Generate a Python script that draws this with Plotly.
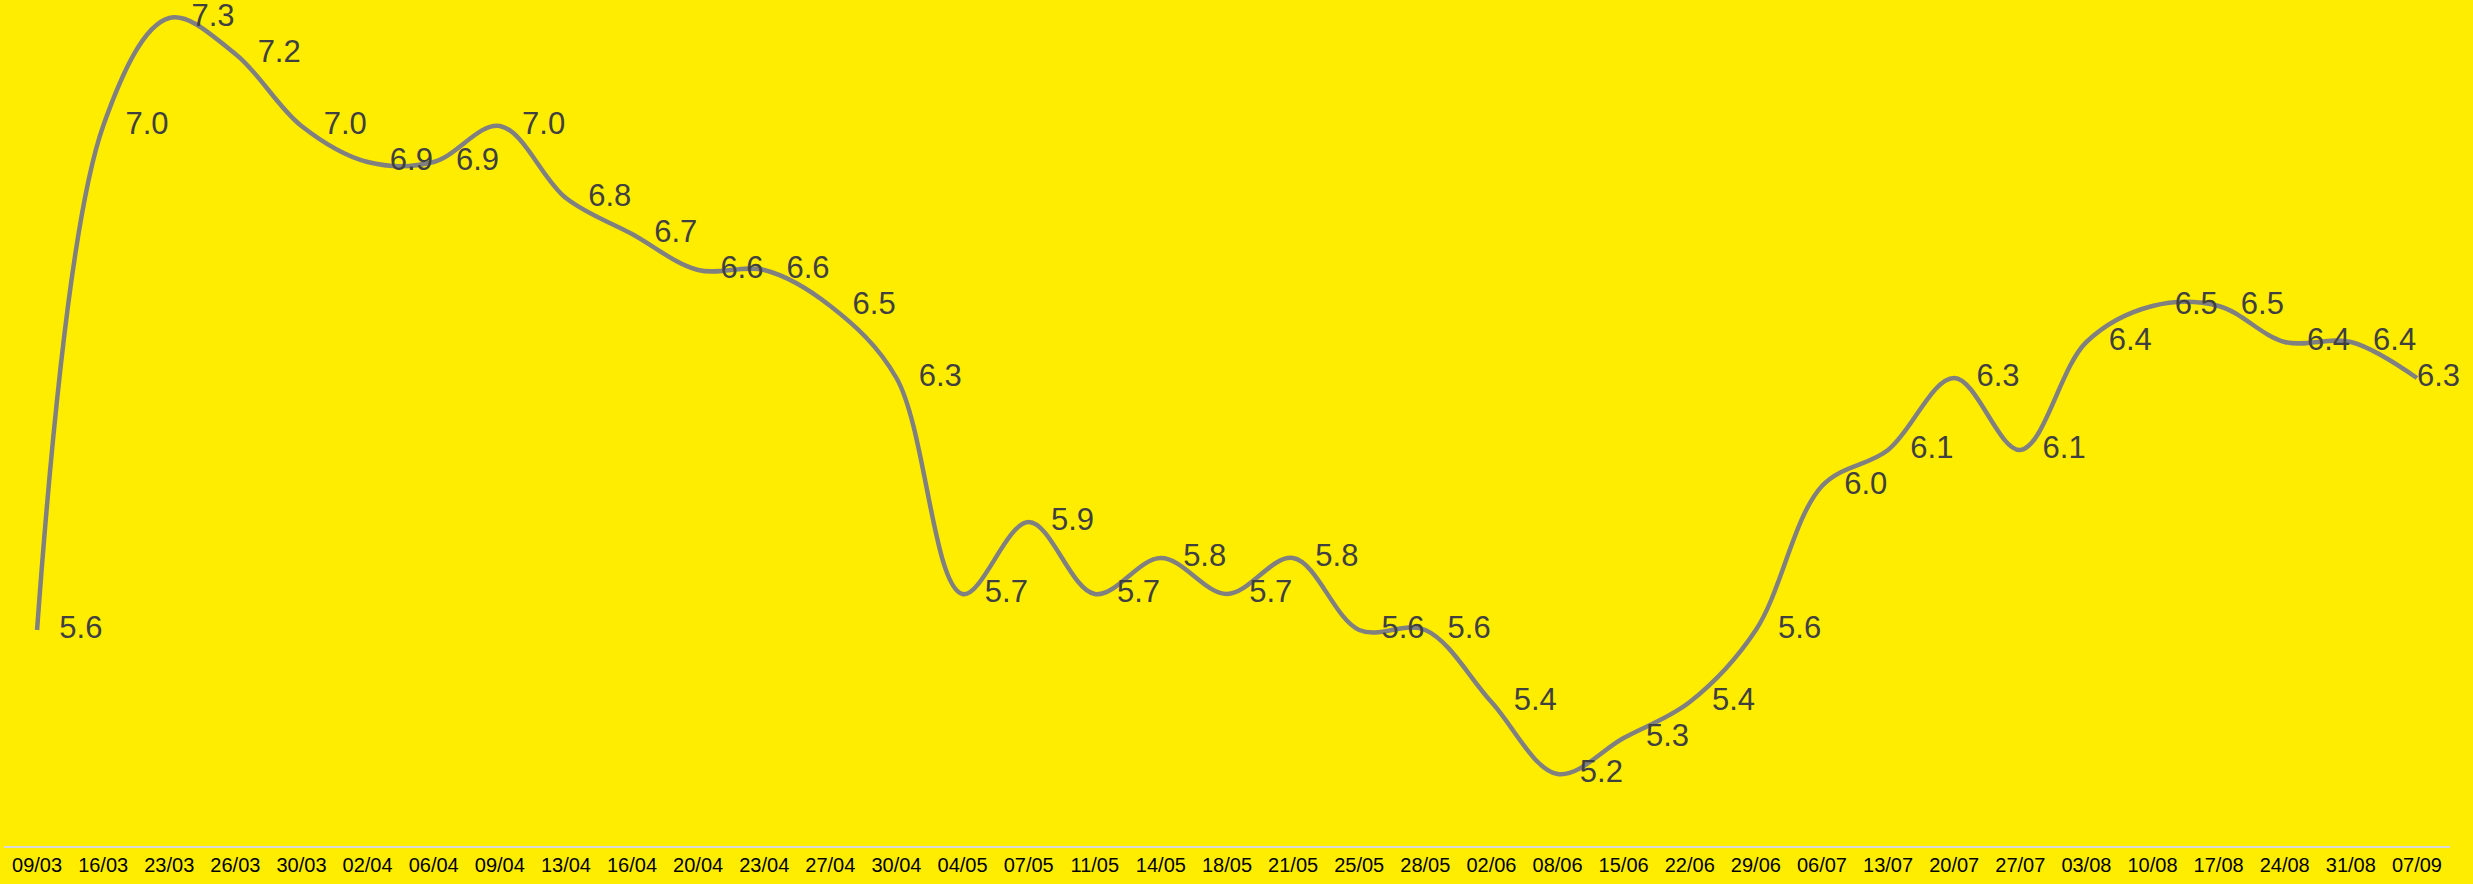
import plotly.graph_objects as go

dates = ["09/03", "16/03", "23/03", "26/03", "30/03", "02/04", "06/04", "09/04", "13/04",
         "16/04", "20/04", "23/04", "27/04", "30/04", "04/05", "07/05", "11/05", "14/05",
         "18/05", "21/05", "25/05", "28/05", "02/06", "08/06", "15/06", "22/06", "29/06",
         "06/07", "13/07", "20/07", "27/07", "03/08", "10/08", "17/08", "24/08", "31/08", "07/09"]
values = [5.6, 7.0, 7.3, 7.2, 7.0, 6.9, 6.9, 7.0, 6.8, 6.7, 6.6, 6.6, 6.5, 6.3, 5.7, 5.9,
          5.7, 5.8, 5.7, 5.8, 5.6, 5.6, 5.4, 5.2, 5.3, 5.4, 5.6, 6.0, 6.1, 6.3, 6.1, 6.4,
          6.5, 6.5, 6.4, 6.4, 6.3]
labels = [f"{v:.1f}" for v in values]

# invisible marker sizes only used to offset the value labels from the line
marker_sizes = [34] * (len(values) - 1) + [0]

fig = go.Figure()
fig.add_trace(go.Scatter(
    x=dates, y=values, text=labels,
    mode="lines+markers+text",
    line=dict(color="#808080", width=4.5, shape="spline", smoothing=1),
    marker=dict(size=marker_sizes, color="rgba(0,0,0,0)",
                line=dict(width=0, color="rgba(0,0,0,0)")),
    textposition="middle right",
    textfont=dict(family="Liberation Sans, Arial, sans-serif", size=31, color="#404040"),
    cliponaxis=False,
    hoverinfo="skip",
))

fig.update_layout(
    width=2473, height=884,
    margin=dict(l=4, r=23, t=0, b=38),
    paper_bgcolor="#FFED00", plot_bgcolor="#FFED00",
    showlegend=False,
    xaxis=dict(type="category", showgrid=False, zeroline=False,
               showline=True, linecolor="#D9D9D9", linewidth=2,
               ticks="", tickfont=dict(family="Liberation Sans, Arial, sans-serif", size=20, color="#000000"),
               range=[-0.5, len(dates) - 0.5]),
    yaxis=dict(range=[5.0, 7.35], visible=False, showgrid=False, zeroline=False),
)

fig.write_html(
    "out.html",
    config={"displayModeBar": False},
    post_script="document.body.style.margin='0';document.body.style.padding='0';"
                "document.body.style.background='#FFED00';",
)
